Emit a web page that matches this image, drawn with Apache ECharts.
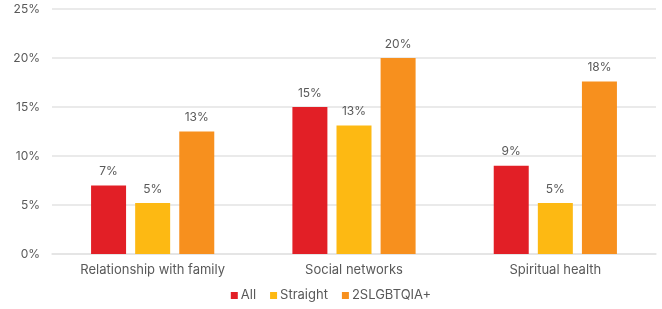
<!DOCTYPE html>
<html>
<head>
<meta charset="utf-8">
<script src="https://cdn.jsdelivr.net/npm/echarts@6/dist/echarts.min.js"></script>
<style>html,body{margin:0;padding:0;background:#fff}#c{width:662px;height:309px}</style>
</head>
<body>
<div id="c"></div>
<script>
const categories = ['Relationship with family', 'Social networks', 'Spiritual health'];
const seriesNames = ['All', 'Straight', '2SLGBTQIA+'];
const allValues = [7.0, 15.0, 9.0];
const straightValues = [5.2, 13.1, 5.2];
const lgbtValues = [12.5, 20.0, 17.6];
const yTicks = [0, 5, 10, 15, 20, 25];
const colors = ['#E21F26', '#FDB913', '#F7901E'];

const chart = echarts.init(document.getElementById('c'));
const font = 'Inter';
const txt = '#595959';
function mk(name, data, color) {
  return {
    name, type: 'bar', data, barWidth: 35, barGap: '26%',
    itemStyle: { color },
    label: { show: true, position: 'top', distance: 8, color: txt, fontFamily: font, fontSize: 12,
      formatter: p => Math.round(p.value) + '%' }
  };
}
chart.setOption({
  animation: false,
  textStyle: { fontFamily: font },
  grid: { left: 52, right: 6, top: 9, bottom: 55 },
  legend: {
    data: seriesNames, bottom: 2, left: 'center', itemWidth: 7, itemHeight: 7, itemGap: 14,
    icon: 'rect', textStyle: { color: txt, fontFamily: font, fontSize: 13, padding: [0,0,0,-2] }
  },
  xAxis: {
    type: 'category', data: categories,
    axisLine: { show: true, lineStyle: { color: '#e3e3e3', width: 1.5 } },
    axisTick: { show: false },
    axisLabel: { color: txt, fontFamily: font, fontSize: 13, margin: 10 }
  },
  yAxis: {
    type: 'value', min: yTicks[0], max: yTicks[yTicks.length-1], interval: 5,
    axisLine: { show: false }, axisTick: { show: false },
    splitLine: { lineStyle: { color: '#e3e3e3', width: 1.5 } },
    axisLabel: { color: txt, fontFamily: font, fontSize: 12, margin: 12, formatter: v => v + '%' }
  },
  series: [
    mk(seriesNames[0], allValues, colors[0]),
    mk(seriesNames[1], straightValues, colors[1]),
    mk(seriesNames[2], lgbtValues, colors[2])
  ]
});
</script>
</body>
</html>
